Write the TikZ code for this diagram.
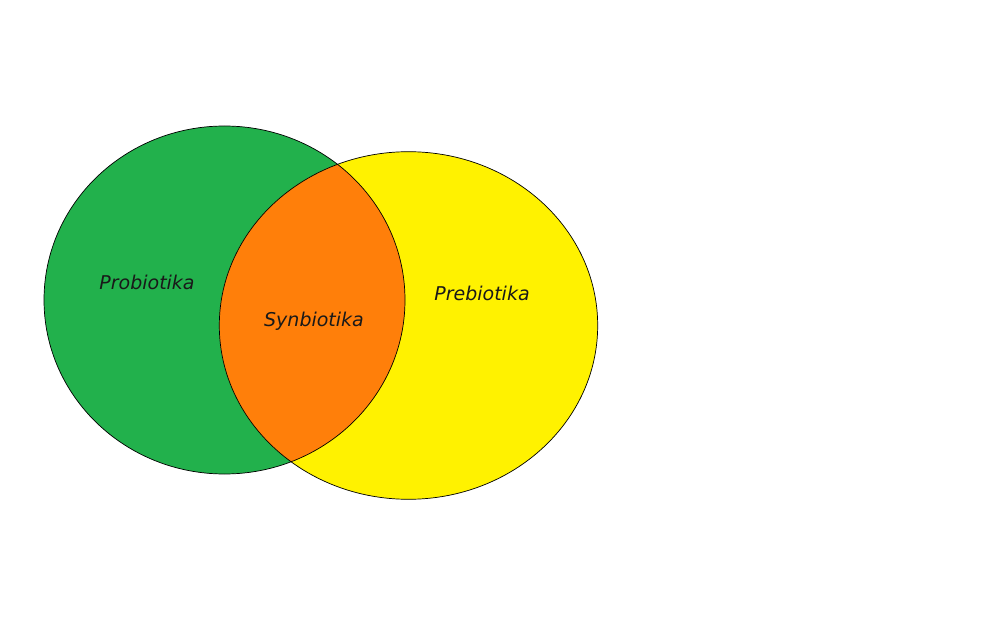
\documentclass[tikz,border=0pt]{standalone}
\usepackage{fontspec}
\newfontfamily\labelfont{DejaVu Sans}
\definecolor{vgreen}{RGB}{34,177,76}
\definecolor{vyellow}{RGB}{255,242,0}
\definecolor{vorange}{RGB}{255,127,10}
\begin{document}
\begin{tikzpicture}[x=1pt,y=-1pt,
  setlabel/.style={font=\labelfont\itshape\fontsize{19}{22}\selectfont, text=black!90, inner sep=0pt},
  outline/.style={draw=black, line width=0.7pt}]
\useasboundingbox (0,0) rectangle (1004,644);
\fill[white] (0,0) rectangle (1004,644);
\def\greenset{(224.5,300) ellipse [x radius=180.5, y radius=174]}
\def\yellowset{(408.5,325.5) ellipse [x radius=189.2, y radius=173.8]}
\fill[vgreen] \greenset;
\fill[vyellow] \yellowset;
\begin{scope}
  \clip \greenset;
  \fill[vorange] \yellowset;
\end{scope}
\draw[outline] \greenset;
\draw[outline] \yellowset;
\node[setlabel] (pro) at (147,282) {Probiotika};
\node[setlabel] (syn) at (314,321) {Synbiotika};
\node[setlabel] (pre) at (482,293) {Prebiotika};
\end{tikzpicture}
\end{document}
